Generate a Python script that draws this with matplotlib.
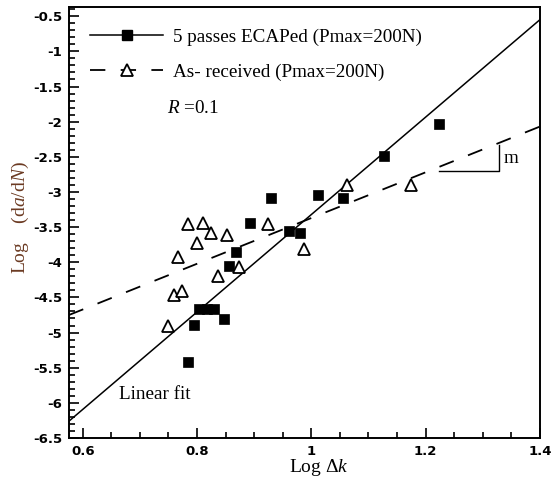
import matplotlib
matplotlib.use("Agg")
import matplotlib.pyplot as plt
from matplotlib.ticker import MultipleLocator, FormatStrFormatter

plt.rcParams['axes.unicode_minus'] = False
plt.rcParams['mathtext.fontset'] = 'custom'
plt.rcParams['mathtext.rm'] = 'Liberation Serif'
plt.rcParams['mathtext.it'] = 'Liberation Serif:italic'

# 5 passes ECAPed (filled squares)
ecap_x = [0.785, 0.795, 0.804, 0.817, 0.830, 0.848, 0.856, 0.869, 0.893,
          0.930, 0.961, 0.980, 1.011, 1.056, 1.128, 1.224]
ecap_y = [-5.42, -4.89, -4.67, -4.67, -4.67, -4.81, -4.06, -3.86, -3.44,
          -3.09, -3.55, -3.59, -3.04, -3.09, -2.49, -2.03]
# as-received (open triangles)
recv_x = [0.750, 0.760, 0.773, 0.766, 0.784, 0.800, 0.811, 0.824, 0.837,
          0.853, 0.874, 0.925, 0.987, 1.063, 1.174]
recv_y = [-4.91, -4.47, -4.41, -3.93, -3.46, -3.73, -3.44, -3.59, -4.19,
          -3.61, -4.07, -3.46, -3.81, -2.90, -2.90]
# fit lines, end points
fit_x = [0.576, 1.4]
ecap_fit_y = [-6.26, -0.55]
recv_fit_y = [-4.75, -2.07]
# slope marker
slope_x = [1.223, 1.329, 1.329]
slope_y = [-2.70, -2.70, -2.33]

fig = plt.figure(figsize=(5.52, 4.79), dpi=100)
ax = fig.add_axes([0.125, 0.0856, 0.853, 0.8996])

ax.plot(fit_x, ecap_fit_y, color='black', lw=1.1)
ax.plot(fit_x, recv_fit_y, color='black', lw=1.3, dashes=(8.5, 8.5))
ax.plot(ecap_x, ecap_y, ls='none', marker='s', ms=7.2, mfc='black', mec='black', mew=0.5)
ax.plot(recv_x, recv_y, ls='none', marker='^', ms=8.5, mfc='white', mec='black', mew=1.3)
ax.plot(slope_x, slope_y, color='black', lw=1.0)

# legend handles
h1, = ax.plot([], [], color='black', lw=1.1, marker='s', ms=7.2, mfc='black', mec='black')
h2, = ax.plot([], [], color='black', lw=1.3, dashes=(8.5, 8.5), marker='^', ms=8.5,
              mfc='white', mec='black', mew=1.3)
leg = ax.legend([h1, h2], ['5 passes ECAPed (Pmax=200N)', 'As- received (Pmax=200N)'],
                loc='upper left', bbox_to_anchor=(0.045, 0.95), frameon=False,
                prop={'family': 'Liberation Serif', 'size': 13.8},
                handlelength=3.8, handletextpad=0.52, labelspacing=0.9,
                borderpad=0, borderaxespad=0)

ax.text(0.748, -1.81, r'$R$ =0.1', family='Liberation Serif', fontsize=13.8, va='center')
ax.text(0.664, -5.88, 'Linear fit', family='Liberation Serif', fontsize=13.8, va='center')
ax.text(1.336, -2.53, 'm', family='Liberation Serif', fontsize=13.8, va='center')

ax.set_xlim(0.576, 1.4)
ax.set_ylim(-6.5, -0.37)
ax.xaxis.set_major_locator(MultipleLocator(0.2))
ax.xaxis.set_minor_locator(MultipleLocator(0.05))
ax.yaxis.set_major_locator(MultipleLocator(0.5))
ax.yaxis.set_minor_locator(MultipleLocator(0.1))
ax.xaxis.set_major_formatter(FormatStrFormatter('%g'))
ax.yaxis.set_major_formatter(FormatStrFormatter('%g'))
ax.tick_params(which='both', direction='in', top=False, right=False, width=1.2)
ax.tick_params(which='major', length=7, pad=5)
ax.tick_params(which='minor', length=4)
for lab in ax.get_xticklabels() + ax.get_yticklabels():
    lab.set_fontweight('bold')
    lab.set_fontsize(9.5)
for sp in ax.spines.values():
    sp.set_linewidth(1.4)

fig.text(318.5 / 552, 1 - 468 / 479, r'Log $\Delta k$', family='Liberation Serif',
         fontsize=14, ha='center', va='center')
fig.text(20 / 552, 1 - 218 / 479, r'Log    (d$a$/d$N$)', family='Liberation Serif',
         fontsize=14, ha='center', va='center', rotation=90, color='#6b3a22')

fig.savefig('out.png', dpi=100)
